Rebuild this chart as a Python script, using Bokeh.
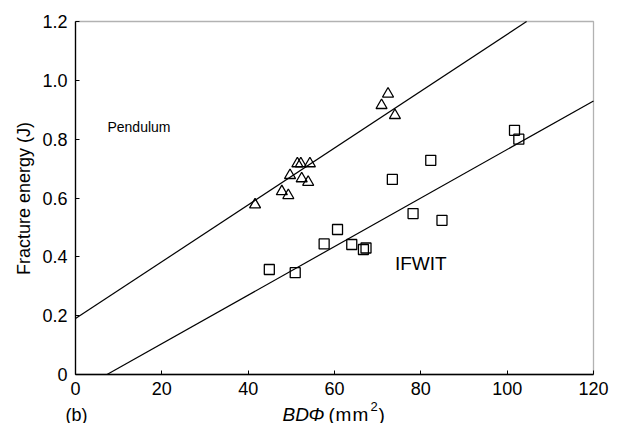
import math
from bokeh.plotting import figure
from bokeh.models import Range1d, Label, FixedTicker, BoxAnnotation
from bokeh.embed import file_html
from bokeh.resources import INLINE

# Pendulum data (triangles)
pend_x = [41.6, 47.8, 49.3, 49.7, 51.4, 52.2, 52.4, 53.9, 54.3, 70.9, 72.4, 74.0]
pend_y = [0.577, 0.622, 0.609, 0.677, 0.717, 0.717, 0.666, 0.654, 0.717, 0.915, 0.954, 0.881]

# IFWIT data (squares)
ifwit_x = [44.9, 50.9, 57.6, 60.7, 64.0, 66.7, 67.3, 73.4, 78.2, 82.3, 84.9, 101.7, 102.7]
ifwit_y = [0.357, 0.346, 0.444, 0.493, 0.442, 0.425, 0.430, 0.663, 0.547, 0.728, 0.524, 0.830, 0.800]

# Fitted lines (end points)
pend_fit_x = [0.0, 104.5]
pend_fit_y = [0.19, 1.2]
ifwit_fit_x = [7.3, 120.0]
ifwit_fit_y = [0.0, 0.93]

x_ticks = [0, 20, 40, 60, 80, 100, 120]
y_ticks = [0, 0.2, 0.4, 0.6, 0.8, 1.0, 1.2]
y_tick_labels = {0: "0", 0.2: "0.2", 0.4: "0.4", 0.6: "0.6", 0.8: "0.8", 1.0: "1.0", 1.2: "1.2"}

FONT = "Liberation Sans"

# layout: canvas size and the pixel box of the data area inside it
W, H = 612, 423
LEFT, RIGHT, TOP, BOTTOM = 75, 593, 21, 374
x0, x1 = x_ticks[0], x_ticks[-1]
y0, y1 = y_ticks[0], y_ticks[-1]
sx = (RIGHT - LEFT) / (x1 - x0)
sy = (BOTTOM - TOP) / (y1 - y0)
x_range = Range1d(x0 - LEFT / sx, x1 + (W - RIGHT) / sx)
y_range = Range1d(y0 - (H - BOTTOM) / sy, y1 + TOP / sy)

p = figure(width=W, height=H, output_backend="svg", toolbar_location=None,
           title_location=None, x_range=x_range, y_range=y_range,
           min_border_left=0, min_border_right=0, min_border_top=0, min_border_bottom=0)
p.background_fill_color = "white"
p.border_fill_color = "white"
p.outline_line_color = None
p.grid.visible = False

p.xaxis.fixed_location = y0
p.yaxis.fixed_location = x0
p.xaxis.bounds = (x0, x1)
p.yaxis.bounds = (y0, y1)

for ax in (p.xaxis[0], p.yaxis[0]):
    ax.major_tick_in = 4
    ax.major_tick_out = 0
    ax.minor_tick_in = 0
    ax.minor_tick_out = 0
    ax.axis_line_color = "black"
    ax.axis_line_width = 1.3
    ax.major_tick_line_color = "black"
    ax.major_label_text_font = FONT
    ax.major_label_text_font_size = "18px"
    ax.major_label_text_color = "black"

p.xaxis.ticker = FixedTicker(ticks=x_ticks)
p.yaxis.ticker = FixedTicker(ticks=y_ticks)
p.yaxis.major_label_overrides = y_tick_labels
p.xaxis.major_label_standoff = 7
p.yaxis.major_label_standoff = 8

# plot box (top and right sides)
p.add_layout(BoxAnnotation(left=x0, right=x1, bottom=y0, top=y1,
                           fill_color=None, line_color="black", line_width=1.3))

p.line(pend_fit_x, pend_fit_y, line_color="black", line_width=1.2)
p.line(ifwit_fit_x, ifwit_fit_y, line_color="black", line_width=1.2)

p.scatter(pend_x, pend_y, marker="triangle", size=11, fill_color=None,
          line_color="black", line_width=1.3)
p.scatter(ifwit_x, ifwit_y, marker="square", size=10, fill_color=None,
          line_color="black", line_width=1.3)

p.add_layout(Label(x=7.4, y=0.84, text="Pendulum", text_font=FONT,
                   text_font_size="14px", text_baseline="middle", text_color="black"))
p.add_layout(Label(x=74.0, y=0.379, text="IFWIT", text_font=FONT,
                   text_font_size="19px", text_baseline="middle", text_color="black"))

# y axis title (screen units, origin at bottom-left of canvas)
p.add_layout(Label(x=23, y=H - 198, x_units="screen", y_units="screen",
                   text="Fracture energy (J)", angle=math.pi / 2,
                   text_font=FONT, text_font_size="18px",
                   text_align="center", text_baseline="middle", text_color="black"))

# x axis title pieces
base_y = H - 414
def piece(x, txt, size, style="normal", dy=0):
    p.add_layout(Label(x=x, y=base_y + dy, x_units="screen", y_units="screen", text=txt,
                       text_font=FONT, text_font_style=style, text_font_size=size,
                       text_baseline="alphabetic", text_color="black"))

piece(282, "BD", "19px", "italic")
piece(308, "\u03a6", "19px", "italic")
piece(328, "(", "19px")
piece(335, "m", "19px")
piece(352, "m", "19px")
piece(370, "2", "13px", dy=8)
piece(378, ")", "19px")
# panel tag
piece(65, "(b)", "18px")

open("out.html", "w").write(file_html(p, INLINE))
